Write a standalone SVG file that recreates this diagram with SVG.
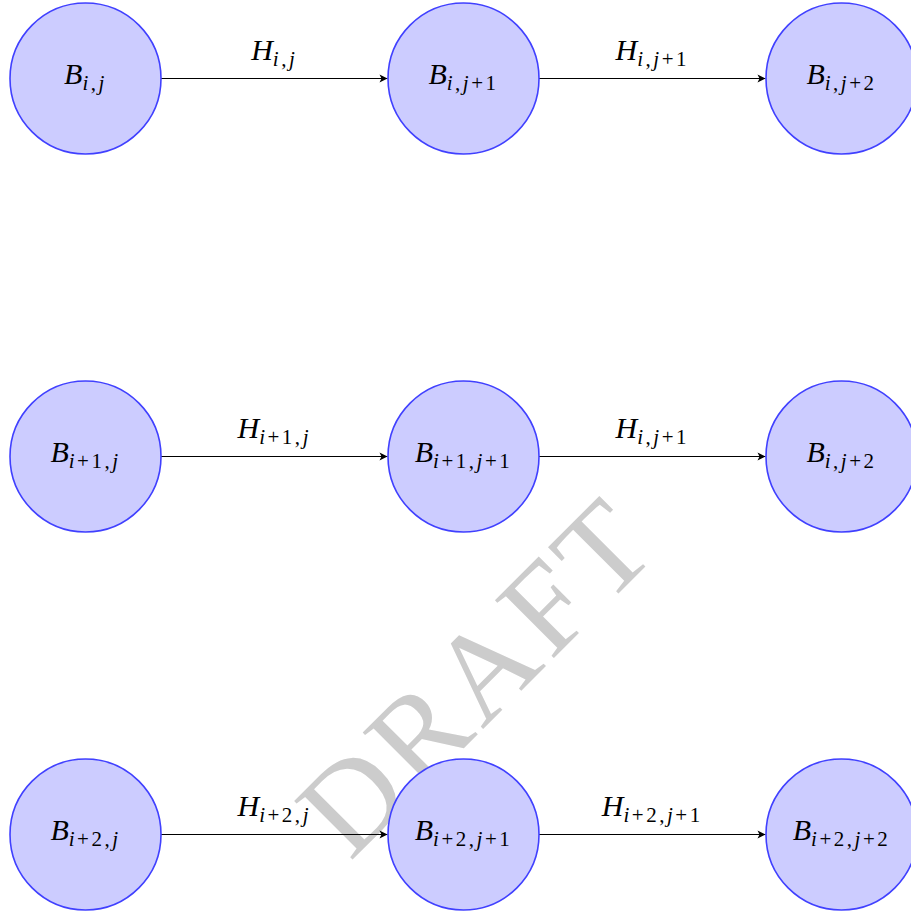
<svg xmlns="http://www.w3.org/2000/svg" width="911" height="912" viewBox="0 0 911 912">
<style>
.node{fill:#ccccff;stroke:#4040ff;stroke-width:1.6}
.lbl{font-family:"Liberation Serif","Times New Roman",serif;font-size:30px;text-anchor:middle;fill:#000}
.it{font-style:italic}
.sub{font-size:21px;letter-spacing:2.5px}
.edge{stroke:#000;stroke-width:1;fill:none;marker-end:url(#arr)}
.wm{font-family:"Liberation Serif","Times New Roman",serif;font-size:126px;letter-spacing:6px;fill:#cccccc}
</style>
<defs>
<marker id="arr" markerUnits="userSpaceOnUse" markerWidth="12" markerHeight="12" viewBox="-9 -6 12 12" refX="0" refY="0" orient="auto">
<path d="M0,0 L-8,-4 L-6,0 L-8,4 Z" fill="#000"/>
</marker>
</defs>
<g id="watermark">
<text class="wm" transform="translate(350,862) rotate(-45)" x="0" y="0">DRAFT</text>
</g>
<g id="connectors">
<line class="edge" x1="161" y1="78.5" x2="387.5" y2="78.5"/>
<line class="edge" x1="539" y1="78.5" x2="765.5" y2="78.5"/>
<line class="edge" x1="161" y1="456.5" x2="387.5" y2="456.5"/>
<line class="edge" x1="539" y1="456.5" x2="765.5" y2="456.5"/>
<line class="edge" x1="161" y1="834.5" x2="387.5" y2="834.5"/>
<line class="edge" x1="539" y1="834.5" x2="765.5" y2="834.5"/>
<text class="lbl" x="274.25" y="60"><tspan class="it">H</tspan><tspan class="sub" dy="6"><tspan class="it">i</tspan>,<tspan class="it">j</tspan></tspan></text>
<text class="lbl" x="652.25" y="60"><tspan class="it">H</tspan><tspan class="sub" dy="6"><tspan class="it">i</tspan>,<tspan class="it">j</tspan>+1</tspan></text>
<text class="lbl" x="274.25" y="438"><tspan class="it">H</tspan><tspan class="sub" dy="6"><tspan class="it">i</tspan>+1,<tspan class="it">j</tspan></tspan></text>
<text class="lbl" x="652.25" y="438"><tspan class="it">H</tspan><tspan class="sub" dy="6"><tspan class="it">i</tspan>,<tspan class="it">j</tspan>+1</tspan></text>
<text class="lbl" x="274.25" y="816"><tspan class="it">H</tspan><tspan class="sub" dy="6"><tspan class="it">i</tspan>+2,<tspan class="it">j</tspan></tspan></text>
<text class="lbl" x="652.25" y="816"><tspan class="it">H</tspan><tspan class="sub" dy="6"><tspan class="it">i</tspan>+2,<tspan class="it">j</tspan>+1</tspan></text>
</g>
<g id="n11"><circle class="node" cx="85.5" cy="78.5" r="75.5"/><text class="lbl" x="85.5" y="83.5"><tspan class="it">B</tspan><tspan class="sub" dy="6"><tspan class="it">i</tspan>,<tspan class="it">j</tspan></tspan></text></g>
<g id="n12"><circle class="node" cx="463.5" cy="78.5" r="75.5"/><text class="lbl" x="463.5" y="83.5"><tspan class="it">B</tspan><tspan class="sub" dy="6"><tspan class="it">i</tspan>,<tspan class="it">j</tspan>+1</tspan></text></g>
<g id="n13"><circle class="node" cx="841.5" cy="78.5" r="75.5"/><text class="lbl" x="841.5" y="83.5"><tspan class="it">B</tspan><tspan class="sub" dy="6"><tspan class="it">i</tspan>,<tspan class="it">j</tspan>+2</tspan></text></g>
<g id="n21"><circle class="node" cx="85.5" cy="456.5" r="75.5"/><text class="lbl" x="85.5" y="461.5"><tspan class="it">B</tspan><tspan class="sub" dy="6"><tspan class="it">i</tspan>+1,<tspan class="it">j</tspan></tspan></text></g>
<g id="n22"><circle class="node" cx="463.5" cy="456.5" r="75.5"/><text class="lbl" x="463.5" y="461.5"><tspan class="it">B</tspan><tspan class="sub" dy="6"><tspan class="it">i</tspan>+1,<tspan class="it">j</tspan>+1</tspan></text></g>
<g id="n23"><circle class="node" cx="841.5" cy="456.5" r="75.5"/><text class="lbl" x="841.5" y="461.5"><tspan class="it">B</tspan><tspan class="sub" dy="6"><tspan class="it">i</tspan>,<tspan class="it">j</tspan>+2</tspan></text></g>
<g id="n31"><circle class="node" cx="85.5" cy="834.5" r="75.5"/><text class="lbl" x="85.5" y="839.5"><tspan class="it">B</tspan><tspan class="sub" dy="6"><tspan class="it">i</tspan>+2,<tspan class="it">j</tspan></tspan></text></g>
<g id="n32"><circle class="node" cx="463.5" cy="834.5" r="75.5"/><text class="lbl" x="463.5" y="839.5"><tspan class="it">B</tspan><tspan class="sub" dy="6"><tspan class="it">i</tspan>+2,<tspan class="it">j</tspan>+1</tspan></text></g>
<g id="n33"><circle class="node" cx="841.5" cy="834.5" r="75.5"/><text class="lbl" x="841.5" y="839.5"><tspan class="it">B</tspan><tspan class="sub" dy="6"><tspan class="it">i</tspan>+2,<tspan class="it">j</tspan>+2</tspan></text></g>
</svg>
